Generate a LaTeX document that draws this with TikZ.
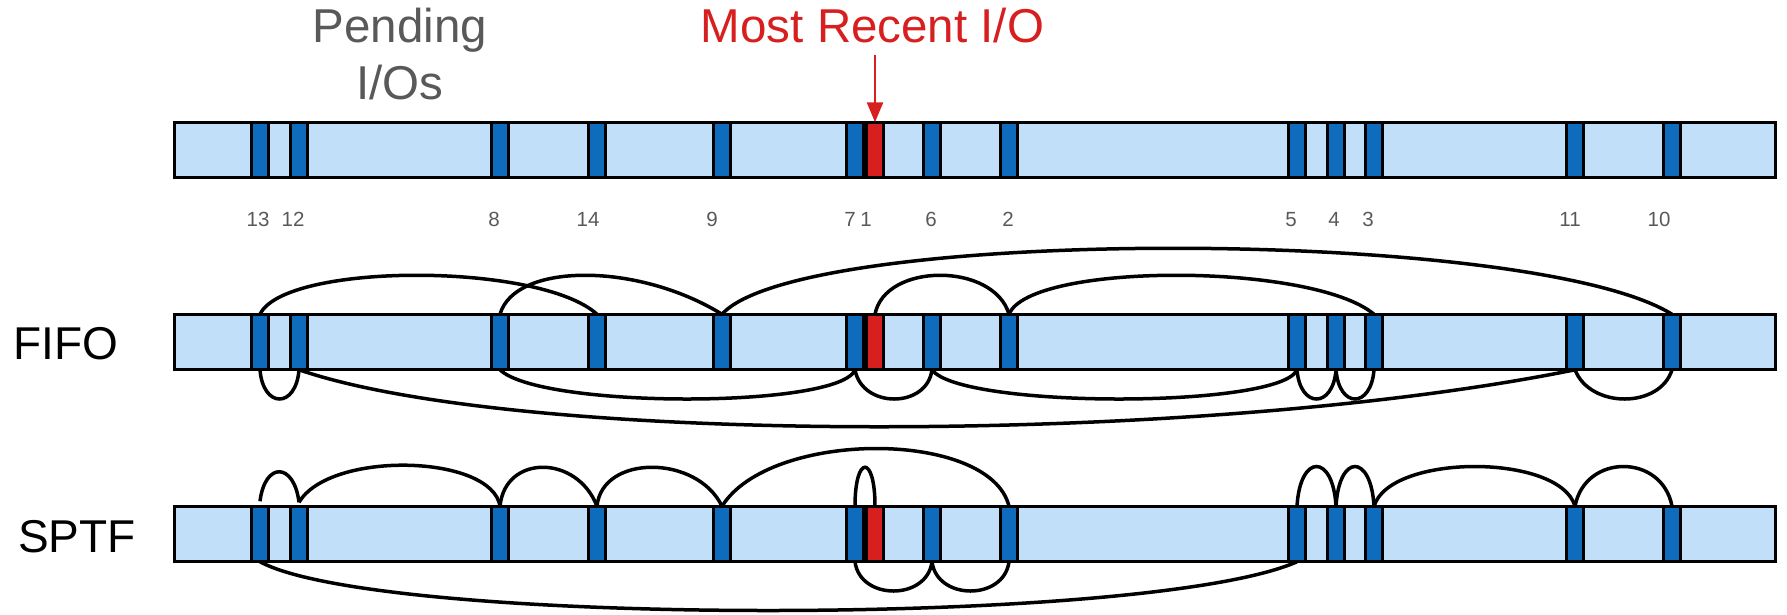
\documentclass[tikz,border=0pt]{standalone}
\usepackage{fontspec}
\setmainfont{Liberation Sans}
\usetikzlibrary{arrows.meta}
\definecolor{barfill}{HTML}{C1DFF8}
\definecolor{boxblue}{HTML}{0F6CBD}
\definecolor{boxred}{HTML}{D71F1F}
\definecolor{txtgray}{HTML}{595959}
\definecolor{titlered}{HTML}{D71F1F}
\begin{document}
\begin{tikzpicture}[x=1pt,y=-1pt,
  diskbar/.style={draw=black, line width=2.9pt, fill=barfill, minimum width=1601pt, minimum height=55.5pt, inner sep=0pt, outer sep=0pt},
  iobox/.style={draw=black, line width=2.9pt, fill=boxblue, minimum width=17pt, minimum height=55.5pt, inner sep=0pt, outer sep=0pt},
  recent/.style={iobox, fill=boxred},
  conn/.style={draw=black, line width=3.5pt},
  numlabel/.style={text=txtgray, font=\fontsize{20.5}{24}\selectfont, inner sep=0pt, anchor=base},
  bigtext/.style={font=\fontsize{46}{57}\selectfont, inner sep=0pt},
  toptext/.style={font=\fontsize{47.5}{57}\selectfont, inner sep=0pt},
]
\useasboundingbox (0,0) rectangle (1787,614);

% bars
\node[diskbar] (abar) at (975,150) {};
\node[diskbar] (fbar) at (975,342) {};
\node[diskbar] (sbar) at (975,534) {};

% I/O boxes
\foreach \n/\x in {13/260,12/299,8/500,14/597,9/722,7/855,6/932,2/1009,5/1297,4/1336,3/1374,11/1575,10/1672}{
  \node[iobox] (a\n) at (\x,150) {};
  \node[iobox] (f\n) at (\x,342) {};
  \node[iobox] (s\n) at (\x,534) {};
}
\node[recent] (a1) at (875,150) {};
\node[recent] (f1) at (875,342) {};
\node[recent] (s1) at (875,534) {};

% number labels
\foreach \n/\x in {13/258,12/293,8/494,14/588,9/712,7/850,1/866,6/931,2/1008,5/1291,4/1334,3/1368,11/1570,10/1659}{
  \node[numlabel] (n\n) at (\x,226) {\n};
}

% titles
\node[toptext, text=txtgray, align=center, anchor=base] (pending) at (400,99) {Pending\\I/Os};
\node[toptext, text=titlered, anchor=base] (mostrecent) at (872.5,42) {Most Recent I/O};
\node[bigtext, anchor=base] (fifo) at (66,359) {FIFO};
\node[bigtext, anchor=base] (sptf) at (77,552) {SPTF};

% arrow
\coordinate (arrowtop) at (875,55);
\draw[line width=2.6pt, draw=titlered, -{Triangle[length=20pt,width=16pt]}] (arrowtop) -- (a1.north);

% FIFO connectors
\draw[conn] (f13.north) .. controls +(25,-52) and +(-57,-52) .. (f14.north);
\draw[conn] (f8.north) .. controls +(15,-52) and +(-84,-52) .. (f9.north);
\draw[conn] (f9.north) .. controls +(78,-88) and +(-142,-88) .. (f10.north);
\draw[conn] (f1.north) .. controls +(10,-52) and +(-15,-52) .. (f2.north);
\draw[conn] (f2.north) .. controls +(21,-52) and +(-62,-52) .. (f3.north);
\draw[conn] (f13.south) .. controls +(3,39) and +(-3,39) .. (f12.south);
\draw[conn] (f12.south) .. controls +(221,76) and +(-375,76) .. (f11.south);
\draw[conn] (f8.south) .. controls +(40,39) and +(-15,39) .. (f7.south);
\draw[conn] (f7.south) .. controls +(7,39) and +(-5,39) .. (f6.south);
\draw[conn] (f6.south) .. controls +(28,39) and +(-16,39) .. (f5.south);
\draw[conn] (f5.south) .. controls +(3,39) and +(-3,39) .. (f4.south);
\draw[conn] (f4.south) .. controls +(3,39) and +(-3,39) .. (f3.south);
\draw[conn] (f11.south) .. controls +(15,39) and +(-12,39) .. (f10.south);

% SPTF connectors
\draw[conn] (s7.north) .. controls +(0,-52) and +(0,-52) .. (s1.north);
\draw[conn] (s7.south) .. controls +(5,39) and +(-5,39) .. (s6.south);
\draw[conn] (s6.south) .. controls +(5,39) and +(-5,39) .. (s2.south);
\draw[conn] (s9.north) .. controls +(48,-77) and +(-19,-77) .. (s2.north);
\draw[conn] (s14.north) .. controls +(5,-52) and +(-25,-52) .. (s9.north);
\draw[conn] (s8.north) .. controls +(5,-52) and +(-20,-52) .. (s14.north);
\draw[conn] ([yshift=4pt]s12.north) .. controls +(31,-52) and +(-8,-52) .. (s8.north);
\draw[conn] ([yshift=5pt]s13.north) .. controls +(5,-40) and +(-5,-40) .. ([yshift=4pt]s12.north);
\draw[conn] (s13.south) .. controls +(120,65) and +(-147,65) .. (s5.south);
\draw[conn] (s5.north) .. controls +(3,-53) and +(-3,-53) .. (s4.north);
\draw[conn] (s4.north) .. controls +(3,-53) and +(-3,-53) .. (s3.north);
\draw[conn] (s3.north) .. controls +(16,-53) and +(-15,-53) .. (s11.north);
\draw[conn] (s11.north) .. controls +(10,-53) and +(-10,-53) .. (s10.north);
\end{tikzpicture}
\end{document}
